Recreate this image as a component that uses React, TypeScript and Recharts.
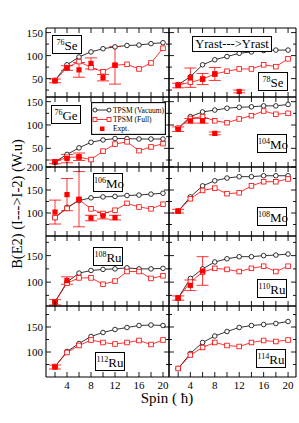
import React from "react";
import { ComposedChart, Line, Scatter, ErrorBar, XAxis, YAxis } from "recharts";

const spins = [2, 4, 6, 8, 10, 12, 14, 16, 18, 20];
const xTicks = [2, 4, 6, 8, 10, 12, 14, 16, 18, 20];

// B(E2) values, TPSM (Vacuum) / TPSM (Full) / Expt.
const se76Vac = [46, 80, 97, 108, 115, 119, 122, 123, 126, 128];
const se76Full = [46, 74, 87, 74, 65, 79, 81, 71, 84, 116];
const se76ExpSpin = [2, 4, 6, 8, 10, 12];
const se76ExpVal = [45, 73, 69, 83, 52, 79];
const se76ExpErr = [4, 5, 16, 12, 7, 41];

const se78Vac = [37, 54, 80, 91, 98, 105, 108, 111, 112, 112];
const se78Full = [36, 42, 49, 60, 66, 71, 71, 80, 76, 93];
const se78ExpSpin = [2, 4, 6, 8, 12];
const se78ExpVal = [35, 52, 49, 60, 22];
const se78ExpErr = [5, 21, 12, 14, 3];

const ge76Vac = [21, 37, 51, 63, 68, 71, 71, 70, 70, 70];
const ge76Full = [21, 31, 31, 26, 44, 59, 64, 45, 53, 60];
const ge76ExpSpin = [2, 4, 6];
const ge76ExpVal = [21, 28, 32];
const ge76ExpErr = [4, 9, 8];

const mo104Vac = [93, 118, 128, 132, 136, 138, 139, 141, 141, 144];
const mo104Full = [93, 114, 118, 109, 105, 113, 120, 130, 123, 125];
const mo104ExpSpin = [2, 4, 6, 8];
const mo104ExpVal = [91, 109, 109, 82];
const mo104ExpErr = [5, 5, 5, 3];

const mo106Vac = [90, 112, 127, 133, 135, 136, 138, 139, 141, 143];
const mo106Full = [90, 110, 129, 109, 99, 106, 121, 113, 109, 119];
const mo106ExpSpin = [2, 4, 6, 8, 10, 12];
const mo106ExpVal = [102, 140, 130, 89, 94, 90];
const mo106ExpErr = [26, 35, 60, 6, 7, 5];

const mo108Vac = [104, 135, 159, 170, 176, 179, 179, 181, 181, 181];
const mo108Full = [104, 131, 149, 154, 142, 144, 159, 168, 168, 174];
const mo108ExpSpin = [2];
const mo108ExpVal = [104];
const mo108ExpErr = [4];

const ru108Vac = [63, 100, 117, 122, 124, 125, 127, 125, 125, 126];
const ru108Full = [63, 98, 108, 108, 96, 102, 120, 120, 107, 112];
const ru108ExpSpin = [2, 4];
const ru108ExpVal = [62, 103];
const ru108ExpErr = [5, 7];

const ru110Vac = [70, 107, 125, 138, 144, 148, 148, 150, 151, 153];
const ru110Full = [70, 100, 119, 126, 124, 120, 126, 130, 120, 130];
const ru110ExpSpin = [2, 4, 6];
const ru110ExpVal = [70, 94, 121];
const ru110ExpErr = [4, 10, 27];

const ru112Vac = [71, 101, 117, 131, 139, 145, 149, 153, 154, 153];
const ru112Full = [71, 99, 113, 124, 119, 116, 119, 123, 115, 124];
const ru112ExpSpin = [2];
const ru112ExpVal = [70];
const ru112ExpErr = [4];

const ru114Vac = [67, 97, 119, 132, 141, 149, 153, 155, 157, 161];
const ru114Full = [67, 94, 109, 119, 113, 111, 119, 123, 121, 124];

const RED = "#ff0000";
const FONT = "'Liberation Serif', 'DejaVu Serif', serif";

const colX = [46, 169];
const colW = [123, 127];
const xDomains: [number, number][] = [[0.5, 21], [0.5, 21.3]];
const rowY = [28, 97, 167, 236, 306];
const rowH = [69, 70, 69, 70, 71];

const CircleDot = (p: any) => {
  if (p.cx == null || p.cy == null) return <g key={p.key} />;
  return <circle key={p.key} cx={p.cx} cy={p.cy} r={2.3} fill="#fff" stroke="#000" strokeWidth={0.8} />;
};

const SquareDot = (p: any) => {
  if (p.cx == null || p.cy == null) return <g key={p.key} />;
  return <rect key={p.key} x={p.cx - 2.3} y={p.cy - 2.3} width={4.6} height={4.6} fill="#fff" stroke={RED} strokeWidth={0.8} />;
};

const ExpShape = (p: any) => <rect x={p.cx - 2.6} y={p.cy - 2.6} width={5.2} height={5.2} fill={RED} />;

type PanelProps = {
  col: number;
  row: number;
  vac: number[];
  full: number[];
  expSpin?: number[];
  expVal?: number[];
  expErr?: number[];
  domain: [number, number];
  yTicks: number[];
};

const Panel = ({ col, row, vac, full, expSpin = [], expVal = [], expErr = [], domain, yTicks }: PanelProps) => {
  // axes need a non-zero size or recharts skips drawing them
  const yw = col === 0 ? 28 : 1;
  const xh = row === 4 ? 16 : 1;
  const th = 1;
  const rw = 1;
  const m = { top: 8, right: 4, bottom: 4, left: 2 };
  const w = m.left + yw + colW[col] + rw + m.right;
  const h = m.top + th + rowH[row] + xh + m.bottom;
  const data = spins.map((s, i) => ({ spin: s, vac: vac[i], full: full[i] }));
  const exp = expSpin.map((s, i) => ({ spin: s, exp: expVal[i], err: expErr[i] }));

  const leftTick = (p: any) => {
    const v = p.payload.value;
    const major = v % 50 === 0;
    return (
      <g>
        <line x1={p.x} y1={p.y} x2={p.x + (major ? 5 : 3)} y2={p.y} stroke="#000" strokeWidth={0.9} />
        {col === 0 && major && (
          <text x={p.x - 3} y={p.y + 4} textAnchor="end" fontSize={11} fontFamily={FONT} fill="#000">
            {v}
          </text>
        )}
      </g>
    );
  };
  const rightTick = (p: any) => {
    const major = p.payload.value % 50 === 0;
    return <line x1={p.x} y1={p.y} x2={p.x - (major ? 5 : 3)} y2={p.y} stroke="#000" strokeWidth={0.9} />;
  };
  const bottomTick = (p: any) => {
    const v = p.payload.value;
    return (
      <g>
        <line x1={p.x} y1={p.y} x2={p.x} y2={p.y - 5} stroke="#000" strokeWidth={0.9} />
        {row === 4 && v % 4 === 0 && (
          <text x={p.x} y={p.y + 12} textAnchor="middle" fontSize={11} fontFamily={FONT} fill="#000">
            {v}
          </text>
        )}
      </g>
    );
  };
  const topTick = (p: any) => <line x1={p.x} y1={p.y} x2={p.x} y2={p.y + 5} stroke="#000" strokeWidth={0.9} />;

  const axisLine = { stroke: "#000", strokeWidth: 1.1 };

  return (
    <div style={{ position: "absolute", left: colX[col] - m.left - yw, top: rowY[row] - m.top - th }}>
      <ComposedChart width={w} height={h} data={data} margin={m}>
        <XAxis
          type="number"
          dataKey="spin"
          domain={xDomains[col]}
          ticks={xTicks}
          interval={0}
          allowDataOverflow
          height={xh}
          tickSize={0}
          tickMargin={0}
          tickLine={false}
          axisLine={axisLine}
          tick={bottomTick}
        />
        <XAxis
          xAxisId="top"
          orientation="top"
          type="number"
          dataKey="spin"
          domain={xDomains[col]}
          ticks={xTicks}
          interval={0}
          allowDataOverflow
          height={th}
          tickSize={0}
          tickMargin={0}
          tickLine={false}
          axisLine={axisLine}
          tick={topTick}
        />
        <YAxis
          type="number"
          domain={domain}
          ticks={yTicks}
          interval={0}
          allowDataOverflow
          width={yw}
          tickSize={0}
          tickMargin={0}
          tickLine={false}
          axisLine={axisLine}
          tick={leftTick}
        />
        <YAxis
          yAxisId="right"
          orientation="right"
          type="number"
          domain={domain}
          ticks={yTicks}
          interval={0}
          allowDataOverflow
          width={rw}
          tickSize={0}
          tickMargin={0}
          tickLine={false}
          axisLine={axisLine}
          tick={rightTick}
        />
        <Line dataKey="vac" stroke="#000" strokeWidth={0.8} dot={CircleDot} isAnimationActive={false} />
        <Line dataKey="full" stroke={RED} strokeWidth={0.8} dot={SquareDot} isAnimationActive={false} />
        {exp.length > 0 && (
          <Scatter data={exp} dataKey="exp" shape={ExpShape} isAnimationActive={false}>
            <ErrorBar dataKey="err" direction="y" width={6} stroke={RED} strokeWidth={0.8} />
          </Scatter>
        )}
      </ComposedChart>
    </div>
  );
};

const Tag = ({ left, top, mass, el }: { left: number; top: number; mass: string; el: string }) => (
  <div
    style={{
      position: "absolute",
      left,
      top,
      width: 28,
      height: 17,
      border: "1.2px solid #000",
      background: "#fff",
      fontFamily: FONT,
      color: "#000",
      lineHeight: "17px",
      textAlign: "center",
      whiteSpace: "nowrap",
    }}
  >
    <span style={{ fontSize: 8, position: "relative", top: -5 }}>{mass}</span>
    <span style={{ fontSize: 13 }}>{el}</span>
  </div>
);

const rowTicksA = [25, 50, 75, 100, 125, 150];
const rowTicksB = [75, 100, 125, 150, 175, 200];
const rowTicksC = [75, 100, 125, 150, 175];

export default function App() {
  return (
    <div style={{ position: "absolute", left: 0, top: 0, width: 299, height: 423, background: "#fff", fontFamily: FONT }}>
      <Panel col={0} row={0} vac={se76Vac} full={se76Full} expSpin={se76ExpSpin} expVal={se76ExpVal} expErr={se76ExpErr} domain={[10, 160]} yTicks={rowTicksA} />
      <Panel col={1} row={0} vac={se78Vac} full={se78Full} expSpin={se78ExpSpin} expVal={se78ExpVal} expErr={se78ExpErr} domain={[10, 160]} yTicks={rowTicksA} />
      <Panel col={0} row={1} vac={ge76Vac} full={ge76Full} expSpin={ge76ExpSpin} expVal={ge76ExpVal} expErr={ge76ExpErr} domain={[10, 160]} yTicks={rowTicksA} />
      <Panel col={1} row={1} vac={mo104Vac} full={mo104Full} expSpin={mo104ExpSpin} expVal={mo104ExpVal} expErr={mo104ExpErr} domain={[10, 160]} yTicks={rowTicksA} />
      <Panel col={0} row={2} vac={mo106Vac} full={mo106Full} expSpin={mo106ExpSpin} expVal={mo106ExpVal} expErr={mo106ExpErr} domain={[50, 200]} yTicks={rowTicksB} />
      <Panel col={1} row={2} vac={mo108Vac} full={mo108Full} expSpin={mo108ExpSpin} expVal={mo108ExpVal} expErr={mo108ExpErr} domain={[50, 200]} yTicks={rowTicksB} />
      <Panel col={0} row={3} vac={ru108Vac} full={ru108Full} expSpin={ru108ExpSpin} expVal={ru108ExpVal} expErr={ru108ExpErr} domain={[55, 187]} yTicks={rowTicksC} />
      <Panel col={1} row={3} vac={ru110Vac} full={ru110Full} expSpin={ru110ExpSpin} expVal={ru110ExpVal} expErr={ru110ExpErr} domain={[55, 187]} yTicks={rowTicksC} />
      <Panel col={0} row={4} vac={ru112Vac} full={ru112Full} expSpin={ru112ExpSpin} expVal={ru112ExpVal} expErr={ru112ExpErr} domain={[50, 192]} yTicks={rowTicksC} />
      <Panel col={1} row={4} vac={ru114Vac} full={ru114Full} domain={[50, 192]} yTicks={rowTicksC} />

      <Tag left={52} top={35} mass="76" el="Se" />
      <Tag left={258} top={72} mass="78" el="Se" />
      <Tag left={51} top={105} mass="76" el="Ge" />
      <Tag left={257} top={134} mass="104" el="Mo" />
      <Tag left={93} top={173} mass="106" el="Mo" />
      <Tag left={257} top={207} mass="108" el="Mo" />
      <Tag left={93} top={247} mass="108" el="Ru" />
      <Tag left={257} top={279} mass="110" el="Ru" />
      <Tag left={95} top={352} mass="112" el="Ru" />
      <Tag left={256} top={349} mass="114" el="Ru" />

      <div
        style={{
          position: "absolute",
          left: 192,
          top: 36,
          width: 78,
          height: 14,
          border: "1.2px solid #000",
          background: "#fff",
          fontSize: 12.5,
          lineHeight: "14px",
          textAlign: "center",
          whiteSpace: "nowrap",
          color: "#000",
        }}
      >
        Yrast---&gt;Yrast
      </div>

      <svg style={{ position: "absolute", left: 91, top: 102 }} width={75} height={33}>
        <rect x={0.6} y={0.6} width={73.8} height={31.8} fill="#fff" stroke="#000" strokeWidth={1.1} />
        <line x1={4} y1={8} x2={18} y2={8} stroke="#000" strokeWidth={0.8} />
        <circle cx={4} cy={8} r={2} fill="#fff" stroke="#000" strokeWidth={0.8} />
        <circle cx={18} cy={8} r={2} fill="#fff" stroke="#000" strokeWidth={0.8} />
        <text x={22} y={10.5} fontSize={7.5} fontFamily={FONT} fill="#000">TPSM (Vacuum)</text>
        <line x1={4} y1={17.5} x2={18} y2={17.5} stroke={RED} strokeWidth={0.8} />
        <rect x={2} y={15.5} width={4} height={4} fill="#fff" stroke={RED} strokeWidth={0.8} />
        <rect x={16} y={15.5} width={4} height={4} fill="#fff" stroke={RED} strokeWidth={0.8} />
        <text x={22} y={20} fontSize={7.5} fontFamily={FONT} fill="#000">TPSM (Full)</text>
        <rect x={9} y={24.5} width={4.5} height={4.5} fill={RED} />
        <text x={22} y={29} fontSize={7.5} fontFamily={FONT} fill="#000">Expt.</text>
      </svg>

      <div
        style={{
          position: "absolute",
          left: 17 - 100,
          top: 204 - 9,
          width: 200,
          height: 18,
          lineHeight: "18px",
          textAlign: "center",
          fontSize: 14.5,
          transform: "rotate(-90deg)",
          whiteSpace: "nowrap",
          color: "#000",
        }}
      >
        B(E2) (I---&gt;I-2) (W.u)
      </div>
      <div
        style={{
          position: "absolute",
          left: 167 - 60,
          top: 390,
          width: 120,
          textAlign: "center",
          fontSize: 15,
          whiteSpace: "nowrap",
          color: "#000",
        }}
      >
        Spin ( ħ)
      </div>
    </div>
  );
}
